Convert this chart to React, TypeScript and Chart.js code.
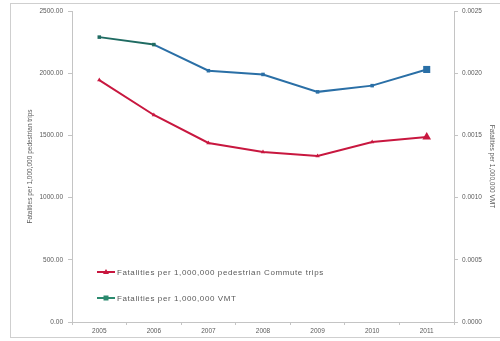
import React, { useEffect, useRef } from "react";
import { Chart, registerables } from "chart.js";

Chart.register(...registerables);

const years = ["2005", "2006", "2007", "2008", "2009", "2010", "2011"];
const pedestrianRate = [1945, 1664, 1439, 1367, 1334, 1447, 1487];
const vmtRate = [0.00229, 0.00223, 0.00202, 0.00199, 0.00185, 0.0019, 0.00203];
const seriesLabels = [
  "Fatalities per 1,000,000 pedestrian Commute trips",
  "Fatalities per 1,000,000 VMT",
];
const leftTitle = "Fatalities per 1,000,000 pedestrian trips";
const rightTitle = "Fatalities per 1,000,000 VMT";

const RED = "#c8173f";
const BLUE = "#2a6fa6";
const TEAL = "#1f6b62";
const GREEN = "#2b8a6e";
const AXIS = "#c4c4c4";
const TEXT = "#5a5a5a";
const FONT = "'Liberation Sans', Arial, sans-serif";

const legendPlugin = {
  id: "insideLegend",
  afterDraw(chart: any) {
    const ctx = chart.ctx;
    ctx.save();
    ctx.font = `8px ${FONT}`;
    try {
      (ctx as any).letterSpacing = "0.6px";
    } catch (e) {}
    ctx.textBaseline = "middle";
    const items = [
      { y: 272, color: RED, style: "tri" },
      { y: 298, color: GREEN, style: "rect" },
    ];
    items.forEach((it, i) => {
      ctx.strokeStyle = it.color;
      ctx.fillStyle = it.color;
      ctx.lineWidth = 2;
      ctx.beginPath();
      ctx.moveTo(97, it.y);
      ctx.lineTo(115, it.y);
      ctx.stroke();
      ctx.beginPath();
      if (it.style === "tri") {
        ctx.moveTo(106, it.y - 3);
        ctx.lineTo(109, it.y + 2);
        ctx.lineTo(103, it.y + 2);
      } else {
        ctx.rect(103.5, it.y - 2.5, 5, 5);
      }
      ctx.closePath();
      ctx.fill();
      ctx.fillStyle = TEXT;
      ctx.fillText(seriesLabels[i], 117, it.y + 0.5);
    });
    ctx.restore();
  },
};

export default function App() {
  const ref = useRef<HTMLCanvasElement | null>(null);

  useEffect(() => {
    if (!ref.current) return;
    const chart = new Chart(ref.current, {
      type: "line",
      data: {
        labels: years,
        datasets: [
          {
            label: seriesLabels[0],
            data: pedestrianRate,
            yAxisID: "y",
            borderColor: RED,
            backgroundColor: RED,
            borderWidth: 2,
            pointStyle: "triangle",
            pointRadius: [2.5, 2.5, 2.5, 2.5, 2.5, 2.5, 5],
            pointBorderWidth: 0,
            tension: 0,
          },
          {
            label: seriesLabels[1],
            data: vmtRate,
            yAxisID: "y1",
            borderColor: BLUE,
            backgroundColor: (c: any) => (c.dataIndex < 2 ? TEAL : BLUE),
            borderWidth: 2,
            pointStyle: "rect",
            pointRadius: [2.5, 2.5, 2.5, 2.5, 2.5, 2.5, 5],
            pointBorderWidth: 0,
            tension: 0,
            segment: {
              borderColor: (s: any) => (s.p0DataIndex < 1 ? TEAL : BLUE),
            },
          },
        ],
      },
      options: {
        animation: false,
        responsive: false,
        maintainAspectRatio: false,
        layout: { padding: { left: 12, right: 2, top: 11, bottom: 4 } },
        plugins: {
          legend: { display: false },
          tooltip: { enabled: false },
          title: { display: false },
        },
        scales: {
          x: {
            offset: true,
            afterFit: (s: any) => {
              s.height = 15;
            },
            grid: {
              display: true,
              drawOnChartArea: false,
              drawTicks: true,
              tickLength: 3,
              color: AXIS,
              offset: true,
            },
            border: { display: true, color: AXIS, width: 1 },
            ticks: {
              color: TEXT,
              font: { family: FONT, size: 6.5 },
              padding: 2,
              maxRotation: 0,
            },
          },
          y: {
            position: "left",
            min: 0,
            max: 2500,
            afterFit: (s: any) => {
              s.width = 60;
            },
            grid: {
              display: true,
              drawOnChartArea: false,
              drawTicks: true,
              tickLength: 4,
              color: AXIS,
            },
            border: { display: true, color: AXIS, width: 1 },
            ticks: {
              stepSize: 500,
              color: TEXT,
              font: { family: FONT, size: 6.5 },
              padding: 5,
              callback: (v: any) => Number(v).toFixed(2),
            },
            title: {
              display: true,
              text: leftTitle,
              color: TEXT,
              font: { family: FONT, size: 6.5 },
              padding: { top: 14, bottom: 0 },
            },
          },
          y1: {
            position: "right",
            min: 0,
            max: 0.0025,
            afterFit: (s: any) => {
              s.width = 44;
            },
            grid: {
              display: true,
              drawOnChartArea: false,
              drawTicks: true,
              tickLength: 4,
              color: AXIS,
            },
            border: { display: true, color: AXIS, width: 1 },
            ticks: {
              stepSize: 0.0005,
              color: TEXT,
              font: { family: FONT, size: 6.5 },
              padding: 4,
              callback: (v: any) => Number(v).toFixed(4),
            },
            title: {
              display: true,
              text: rightTitle,
              color: TEXT,
              font: { family: FONT, size: 6.5 },
              padding: { top: 2, bottom: 0 },
            },
          },
        },
      },
      plugins: [legendPlugin],
    });
    return () => chart.destroy();
  }, []);

  return (
    <div
      style={{
        position: "fixed",
        left: 0,
        top: 0,
        width: 500,
        height: 341,
        background: "#fff",
      }}
    >
      <div
        style={{
          position: "absolute",
          left: 10,
          top: 3,
          width: 490,
          height: 335,
          borderLeft: "1px solid #cfcfcf",
          borderTop: "1px solid #cfcfcf",
          borderBottom: "1px solid #cfcfcf",
          boxSizing: "border-box",
        }}
      />
      <canvas
        ref={ref}
        width={500}
        height={341}
        style={{ position: "absolute", left: 0, top: 0, width: 500, height: 341 }}
      />
    </div>
  );
}
